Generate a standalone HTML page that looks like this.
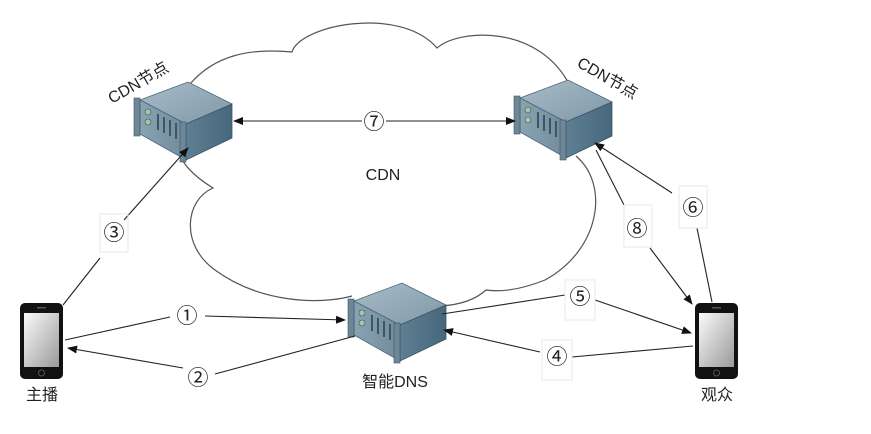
<!DOCTYPE html>
<html><head><meta charset="utf-8"><style>
html,body{margin:0;padding:0;background:#fff;}
svg{display:block;}
text{font-family:"Liberation Sans","Noto Sans CJK SC",sans-serif;fill:#222;}
</style></head><body>
<svg width="871" height="434" viewBox="0 0 871 434" xmlns="http://www.w3.org/2000/svg">
<defs>
<marker id="a" markerWidth="10" markerHeight="8" refX="9" refY="4" orient="auto" markerUnits="userSpaceOnUse">
<path d="M0,0 L10,4 L0,8 Z" fill="#111"/></marker>
<linearGradient id="top" x1="0" y1="0" x2="1" y2="1"><stop offset="0" stop-color="#a9bcc8"/><stop offset="1" stop-color="#7f98a8"/></linearGradient>
<linearGradient id="front" x1="0" y1="0" x2="1" y2="0"><stop offset="0" stop-color="#8aa3b2"/><stop offset="1" stop-color="#6f8b9c"/></linearGradient>
<linearGradient id="side" x1="0" y1="0" x2="1" y2="0"><stop offset="0" stop-color="#5f7f93"/><stop offset="1" stop-color="#46677c"/></linearGradient>
<linearGradient id="scr" x1="0" y1="0" x2="1" y2="1"><stop offset="0" stop-color="#fafafa"/><stop offset="1" stop-color="#9a9a9a"/></linearGradient>
<g id="srv">
<polygon points="0,18 48,0 92,22 46,42" fill="url(#top)" stroke="#4d6576" stroke-width="0.8"/>
<polygon points="0,18 46,42 46,78 0,52" fill="url(#front)" stroke="#4d6576" stroke-width="0.8"/>
<polygon points="46,42 92,22 92,56 46,78" fill="url(#side)" stroke="#3d5566" stroke-width="0.8"/>
<rect x="-6" y="16" width="6" height="38" fill="#6e8797" stroke="#3d5566" stroke-width="0.6"/>
<rect x="40" y="40" width="6" height="40" fill="#6e8797" stroke="#3d5566" stroke-width="0.6"/>
<circle cx="8" cy="30" r="3" fill="#9fc7a8" stroke="#3d5566" stroke-width="0.6"/>
<circle cx="8" cy="40" r="3" fill="#9fc7a8" stroke="#3d5566" stroke-width="0.6"/>
<path d="M18,32 v16 M24,35 v16 M30,38 v16 M36,41 v16" stroke="#3d5566" stroke-width="2"/>
</g>
<g id="ph">
<rect x="0" y="0" width="43" height="76" rx="5" fill="#111"/>
<rect x="4" y="10" width="35" height="54" fill="url(#scr)"/>
<circle cx="21.5" cy="70" r="3" fill="none" stroke="#555" stroke-width="1"/>
<rect x="17" y="4" width="9" height="1.5" fill="#555"/>
</g>
</defs>

<path d="M190,84 C215,55 250,48 292,52 C300,25 400,5 437,48 C460,28 540,25 570,86
M576,156 C610,185 600,250 545,280 C520,290 500,292 486,290 C475,300 460,305 440,306
M352,296 C320,305 260,303 215,270 C180,245 185,200 213,188 C200,180 185,168 181,157"
 fill="none" stroke="#555" stroke-width="1.2"/>

<use href="#srv" x="140" y="82"/>
<use href="#srv" x="520" y="80"/>
<use href="#srv" x="354" y="283"/>
<use href="#ph" x="20" y="303"/>
<use href="#ph" x="695" y="303"/>

<g stroke="#222" stroke-width="1.1" fill="none">
<line x1="362" y1="121" x2="234" y2="121" marker-end="url(#a)"/>
<line x1="386" y1="121" x2="515" y2="121" marker-end="url(#a)"/>
<line x1="100" y1="258" x2="63" y2="305"/>
<line x1="124" y1="220" x2="188" y2="148" marker-end="url(#a)"/>
<polyline points="65,340 170,317"/>
<line x1="205" y1="316" x2="345" y2="320" marker-end="url(#a)"/>
<line x1="355" y1="336" x2="215" y2="374"/>
<line x1="183" y1="368" x2="68" y2="348" marker-end="url(#a)"/>
<line x1="442" y1="314" x2="565" y2="295"/>
<line x1="595" y1="300" x2="691" y2="333" marker-end="url(#a)"/>
<line x1="693" y1="346" x2="572" y2="357"/>
<line x1="540" y1="352" x2="444" y2="330" marker-end="url(#a)"/>
<line x1="596" y1="150" x2="624" y2="205"/>
<line x1="650" y1="248" x2="692" y2="304" marker-end="url(#a)"/>
<line x1="712" y1="302" x2="697" y2="228"/>
<line x1="672" y1="193" x2="595" y2="143" marker-end="url(#a)"/>
</g>

<g fill="none" stroke="#e8e8e8" stroke-width="1">
<rect x="100" y="214" width="28" height="38"/>
<rect x="565" y="280" width="30" height="40"/>
<rect x="542" y="340" width="30" height="40"/>
<rect x="624" y="205" width="28" height="42"/>
<rect x="679" y="186" width="28" height="42"/>
</g>

<g font-size="21" text-anchor="middle" style="font-family:'DejaVu Sans',sans-serif">
<text x="374" y="129">⑦</text>
<text x="114" y="240">③</text>
<text x="187" y="323">①</text>
<text x="198" y="385">②</text>
<text x="580" y="304">⑤</text>
<text x="557" y="364">④</text>
<text x="637" y="236">⑧</text>
<text x="693" y="215">⑥</text>
</g>
<text x="383" y="180" font-size="16" text-anchor="middle">CDN</text>
<text x="395" y="387" font-size="16" text-anchor="middle">智能DNS</text>
<text x="42" y="400" font-size="16" text-anchor="middle">主播</text>
<text x="717" y="400" font-size="16" text-anchor="middle">观众</text>
<text x="0" y="0" font-size="16" transform="translate(112,104) rotate(-30)">CDN节点</text>
<text x="0" y="0" font-size="16" transform="translate(576,66) rotate(30)">CDN节点</text>
</svg>
</body></html>
